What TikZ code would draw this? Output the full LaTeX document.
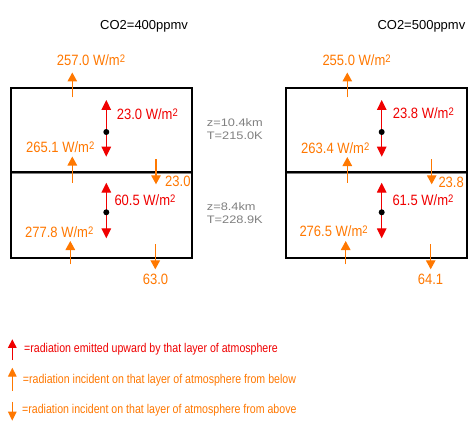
\documentclass[tikz,border=0pt]{standalone}
\usepackage{fontspec}
\setmainfont{Liberation Sans}
\usetikzlibrary{arrows.meta}
\definecolor{myorange}{RGB}{255,120,0}
\definecolor{myred}{RGB}{240,0,0}
\definecolor{mygray}{RGB}{128,128,128}
\newcommand{\lbl}[1]{\scalebox{1}[1.15]{#1}}
\newcommand{\glbl}[1]{\scalebox{1}[0.85]{#1}}
\newcommand{\legl}[1]{\scalebox{1}[1.2]{#1}}
\newcommand{\wm}{W/m\raisebox{2.6pt}{\fontsize{9.5}{9.5}\selectfont 2}}
\begin{document}
\begin{tikzpicture}[x=1pt,y=-1pt,
  oarr/.style={draw=myorange,line width=1.3pt,-{Triangle[width=9.5pt,length=9pt]}},
  rarr/.style={draw=myred,line width=1.3pt,{Triangle[width=9.5pt,length=10pt]}-{Triangle[width=9.5pt,length=10pt]}},
  loarr/.style={draw=myorange,line width=1.3pt,-{Triangle[width=8.5pt,length=9pt]}},
  lrarr/.style={draw=myred,line width=1.3pt,-{Triangle[width=8.5pt,length=8.5pt]}},
  olab/.style={text=myorange,font=\fontsize{13}{13}\selectfont,inner sep=0pt,anchor=base west},
  oclab/.style={olab,anchor=base},
  rlab/.style={olab,text=myred},
  glab/.style={text=mygray,font=\fontsize{12.8}{12.8}\selectfont,inner sep=0pt,anchor=base west},
  tlab/.style={text=black,font=\fontsize{13}{13}\selectfont,inner sep=0pt,anchor=base west},
  leglab/.style={font=\fontsize{10.6}{10.6}\selectfont,inner sep=0pt,anchor=base west},
  box/.style={draw=black,line width=2pt},
  dot/.style={fill=black,circle,inner sep=0pt,minimum size=6pt}]
\useasboundingbox (0,0) rectangle (476,441);
\fill[white] (0,0) rectangle (476,441);

% titles
\node[tlab] (t1) at (100,29.3) {CO2=400ppmv};
\node[tlab] (t2) at (377.3,29.3) {CO2=500ppmv};

% ---------- left panel ----------
\draw[box] (11.2,88.3) rectangle (192,257.7);
\draw[black,line width=1.6pt] (11.2,171.8) -- (192,171.8);
\draw[mygray,line width=1.2pt] (12.2,173.6) -- (191,173.6);

\draw[oarr] (72.3,97.5) -- (72.3,72.5);
\node[olab] (l1) at (56.7,65.5) {\lbl{257.0 \wm}};
\draw[rarr] (106.3,100) -- (106.3,156.7);
\node[dot] (d1) at (106.3,132) {};
\node[rlab] (l2) at (116.7,119) {\lbl{23.0 \wm}};
\draw[oarr] (72.3,182.5) -- (72.3,156.5);
\node[olab] (l3) at (26,152.7) {\lbl{265.1 \wm}};
\draw[oarr] (156,159.3) -- (156,184.3);
\node[olab] (l4) at (165,186.7) {\lbl{23.0}};
\draw[rarr] (106.3,182.7) -- (106.3,238.3);
\node[dot] (d2) at (106.3,212.3) {};
\node[rlab] (l5) at (114.3,205.7) {\lbl{60.5 \wm}};
\draw[oarr] (70.3,264.3) -- (70.3,241);
\node[olab] (l6) at (25,237.3) {\lbl{277.8 \wm}};
\draw[oarr] (155.3,244.3) -- (155.3,269.3);
\node[oclab] (l7) at (155.5,284.3) {\lbl{63.0}};

% middle gray labels
\node[glab] (g1) at (206.7,126.7) {\glbl{z=10.4km}};
\node[glab] (g2) at (206.7,139.3) {\glbl{T=215.0K}};
\node[glab] (g3) at (206.7,210) {\glbl{z=8.4km}};
\node[glab] (g4) at (206.7,223) {\glbl{T=228.9K}};

% ---------- right panel ----------
\draw[box] (285.7,88.3) rectangle (467,257.7);
\draw[black,line width=1.6pt] (285.7,171.8) -- (467,171.8);
\draw[mygray,line width=1.2pt] (286.7,173.6) -- (466,173.6);

\draw[oarr] (347.3,97.5) -- (347.3,72.5);
\node[olab] (r1) at (322.3,65.5) {\lbl{255.0 \wm}};
\draw[rarr] (381.7,100) -- (381.7,156.7);
\node[dot] (d3) at (381.7,132) {};
\node[rlab] (r2) at (392.7,118.5) {\lbl{23.8 \wm}};
\draw[oarr] (347.3,182.5) -- (347.3,157);
\node[olab] (r3) at (301,153.3) {\lbl{263.4 \wm}};
\draw[oarr] (431.7,159.3) -- (431.7,184.3);
\node[olab] (r4) at (438.3,187.3) {\lbl{23.8}};
\draw[rarr] (381.7,182.7) -- (381.7,238.3);
\node[dot] (d4) at (381.7,212.3) {};
\node[rlab] (r5) at (392.3,205.7) {\lbl{61.5 \wm}};
\draw[oarr] (345.7,264.3) -- (345.7,241);
\node[olab] (r6) at (299.3,236.5) {\lbl{276.5 \wm}};
\draw[oarr] (430.7,244.3) -- (430.7,269.3);
\node[oclab] (r7) at (430.5,284) {\lbl{64.1}};

% ---------- legend ----------
\draw[lrarr] (12.3,360) -- (12.3,339.3);
\node[leglab,text=myred] (k1) at (24,352.7) {\legl{=radiation emitted upward by that layer of atmosphere}};
\draw[loarr] (12.3,391) -- (12.3,367.7);
\node[leglab,text=myorange] (k2) at (22.7,383.3) {\legl{=radiation incident on that layer of atmosphere from below}};
\draw[loarr] (12.3,401.7) -- (12.3,420.7);
\node[leglab,text=myorange] (k3) at (22,413.3) {\legl{=radiation incident on that layer of atmosphere from above}};
\end{tikzpicture}
\end{document}
